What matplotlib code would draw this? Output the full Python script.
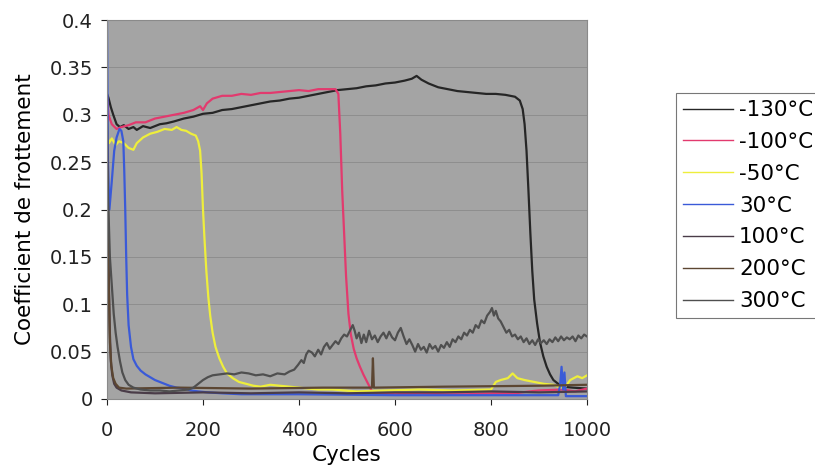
import numpy as np
import matplotlib
matplotlib.use("Agg")
import matplotlib.pyplot as plt

# (cycle, coefficient) pairs
m130 = np.array([
    [0, 0.322], [3, 0.318], [8, 0.308], [13, 0.300], [20, 0.290], [27, 0.287], [35, 0.289],
    [45, 0.285], [55, 0.287], [62, 0.284], [75, 0.288], [90, 0.286], [110, 0.290], [124, 0.291],
    [140, 0.293], [160, 0.296], [180, 0.298], [200, 0.301], [220, 0.302], [240, 0.305],
    [260, 0.306], [280, 0.308], [300, 0.310], [320, 0.312], [340, 0.314], [360, 0.315],
    [380, 0.317], [400, 0.318], [420, 0.320], [440, 0.322], [460, 0.324], [480, 0.326],
    [500, 0.327], [520, 0.328], [540, 0.330], [560, 0.331], [580, 0.333], [600, 0.334],
    [620, 0.336], [635, 0.338], [645, 0.341], [655, 0.337], [670, 0.333], [690, 0.329],
    [710, 0.327], [730, 0.325], [750, 0.324], [770, 0.323], [790, 0.322], [810, 0.322],
    [830, 0.321], [850, 0.319], [860, 0.315], [866, 0.306], [870, 0.290], [874, 0.262],
    [878, 0.220], [882, 0.175], [886, 0.135], [890, 0.105], [896, 0.080], [902, 0.060],
    [909, 0.045], [916, 0.034], [923, 0.026], [930, 0.020], [940, 0.016], [950, 0.013],
    [970, 0.012], [1000, 0.011]])

m100 = np.array([
    [0, 0.320], [3, 0.300], [10, 0.290], [20, 0.285], [30, 0.287], [45, 0.289], [60, 0.292],
    [80, 0.292], [100, 0.296], [120, 0.298], [140, 0.300], [160, 0.302], [180, 0.305],
    [194, 0.309], [200, 0.305], [208, 0.312], [220, 0.317], [240, 0.320], [260, 0.320],
    [280, 0.322], [300, 0.321], [320, 0.323], [340, 0.323], [360, 0.324], [380, 0.325],
    [400, 0.326], [420, 0.325], [440, 0.327], [460, 0.327], [476, 0.327], [482, 0.322],
    [486, 0.280], [490, 0.220], [494, 0.175], [498, 0.130], [503, 0.090], [508, 0.068],
    [514, 0.053], [520, 0.043], [527, 0.034], [534, 0.026], [541, 0.019], [548, 0.012],
    [553, 0.007], [570, 0.006], [600, 0.005], [650, 0.006], [700, 0.005], [750, 0.005],
    [800, 0.006], [850, 0.006], [880, 0.008], [900, 0.009], [950, 0.010], [975, 0.008],
    [1000, 0.011]])

m50 = np.array([
    [0, 0.280], [4, 0.270], [10, 0.275], [18, 0.268], [25, 0.272], [35, 0.270], [45, 0.265],
    [55, 0.263], [62, 0.270], [75, 0.276], [90, 0.280], [105, 0.282], [120, 0.285],
    [135, 0.284], [145, 0.287], [155, 0.284], [165, 0.283], [175, 0.280], [185, 0.278],
    [190, 0.272], [194, 0.262], [197, 0.238], [200, 0.200], [203, 0.170], [207, 0.135],
    [211, 0.108], [215, 0.088], [220, 0.070], [226, 0.055], [234, 0.043], [242, 0.034],
    [250, 0.027], [262, 0.022], [275, 0.018], [290, 0.016], [305, 0.014], [320, 0.013],
    [340, 0.015], [360, 0.014], [380, 0.013], [400, 0.012], [420, 0.011], [440, 0.010],
    [470, 0.010], [520, 0.008], [580, 0.009], [650, 0.010], [720, 0.009], [800, 0.010],
    [810, 0.018], [820, 0.020], [835, 0.022], [845, 0.027], [855, 0.022], [870, 0.020],
    [890, 0.018], [910, 0.016], [930, 0.015], [945, 0.012], [955, 0.013], [965, 0.020],
    [980, 0.024], [990, 0.022], [1000, 0.025]])

p30 = np.array([
    [0, 0.400], [2, 0.250], [5, 0.200], [10, 0.230], [15, 0.262], [20, 0.276], [26, 0.285],
    [30, 0.283], [34, 0.272], [36, 0.240], [38, 0.200], [40, 0.150], [42, 0.110],
    [45, 0.078], [50, 0.055], [55, 0.042], [62, 0.035], [70, 0.030], [80, 0.026],
    [90, 0.023], [100, 0.020], [115, 0.017], [130, 0.014], [145, 0.012], [160, 0.011],
    [175, 0.009], [190, 0.008], [210, 0.007], [240, 0.006], [280, 0.005], [400, 0.005],
    [600, 0.004], [800, 0.004], [940, 0.004], [944, 0.015], [947, 0.034], [950, 0.010],
    [953, 0.028], [956, 0.003], [1000, 0.003]])

p100 = np.array([
    [0, 0.300], [2, 0.200], [4, 0.120], [6, 0.070], [8, 0.040], [11, 0.025], [15, 0.016],
    [20, 0.012], [30, 0.009], [50, 0.007], [100, 0.006], [200, 0.007], [300, 0.006],
    [400, 0.007], [500, 0.006], [600, 0.007], [700, 0.007], [800, 0.008], [900, 0.007],
    [1000, 0.008]])

p200 = np.array([
    [0, 0.240], [2, 0.180], [4, 0.110], [6, 0.060], [9, 0.035], [13, 0.022], [18, 0.016],
    [25, 0.012], [40, 0.011], [150, 0.012], [300, 0.011], [450, 0.012], [552, 0.012],
    [554, 0.043], [556, 0.012], [700, 0.013], [900, 0.014], [1000, 0.015]])

p300 = np.array([
    [0, 0.250], [3, 0.200], [6, 0.150], [10, 0.120], [14, 0.090], [18, 0.070], [22, 0.055],
    [27, 0.040], [32, 0.028], [38, 0.020], [45, 0.015], [55, 0.012], [70, 0.010],
    [90, 0.009], [110, 0.009], [130, 0.008], [150, 0.009], [170, 0.010], [180, 0.012],
    [190, 0.016], [200, 0.020], [210, 0.023], [220, 0.025], [235, 0.026], [250, 0.027],
    [265, 0.026], [280, 0.028], [295, 0.027], [310, 0.025], [325, 0.026], [340, 0.024],
    [355, 0.027], [370, 0.026], [380, 0.029], [390, 0.031], [398, 0.036], [405, 0.041],
    [410, 0.038], [415, 0.047], [420, 0.051], [427, 0.049], [433, 0.045], [440, 0.052],
    [446, 0.047], [452, 0.055], [458, 0.059], [464, 0.053], [470, 0.057], [476, 0.061],
    [482, 0.058], [488, 0.064], [494, 0.068], [500, 0.066], [506, 0.072], [512, 0.078],
    [516, 0.072], [520, 0.064], [525, 0.070], [530, 0.059], [535, 0.068], [540, 0.060],
    [546, 0.072], [552, 0.063], [558, 0.067], [564, 0.060], [570, 0.066], [576, 0.070],
    [582, 0.064], [588, 0.071], [594, 0.065], [600, 0.062], [606, 0.070], [612, 0.075],
    [618, 0.066], [624, 0.058], [630, 0.063], [636, 0.057], [642, 0.050], [648, 0.058],
    [654, 0.052], [660, 0.055], [666, 0.049], [672, 0.058], [678, 0.053], [684, 0.056],
    [690, 0.050], [696, 0.057], [702, 0.054], [708, 0.060], [714, 0.055], [720, 0.063],
    [726, 0.060], [732, 0.066], [738, 0.063], [744, 0.070], [750, 0.067], [756, 0.073],
    [762, 0.070], [768, 0.078], [774, 0.075], [780, 0.083], [786, 0.080], [792, 0.088],
    [798, 0.092], [802, 0.096], [806, 0.088], [810, 0.093], [815, 0.085], [820, 0.082],
    [826, 0.076], [832, 0.070], [838, 0.073], [844, 0.066], [850, 0.068], [856, 0.063],
    [862, 0.066], [868, 0.060], [874, 0.064], [880, 0.058], [886, 0.062], [892, 0.057],
    [898, 0.063], [904, 0.059], [910, 0.062], [916, 0.058], [922, 0.063], [928, 0.060],
    [934, 0.065], [940, 0.061], [946, 0.066], [952, 0.062], [958, 0.065], [964, 0.063],
    [970, 0.066], [976, 0.061], [982, 0.067], [988, 0.064], [994, 0.068], [1000, 0.066]])

series = [m130, m100, m50, p30, p100, p200, p300]
labels = ["-130°C", "-100°C", "-50°C", "30°C", "100°C", "200°C", "300°C"]
colors = ["#262626", "#e23a6e", "#eeee3c", "#3a5ad8", "#4a3c48", "#5c4632", "#4f4f4f"]

plt.rcParams["font.family"] = "DejaVu Sans"
fig = plt.figure(figsize=(8.15, 4.67), dpi=100)
ax = fig.add_axes([107 / 815, 1 - 399 / 467, 480 / 815, 379 / 467])
ax.set_facecolor("#a4a4a4")

for d, lab, c in zip(series, labels, colors):
    ax.plot(d[:, 0], d[:, 1], color=c, lw=1.6, label=lab)

ax.set_xlim(0, 1000)
ax.set_ylim(0, 0.4)
ax.set_xticks(range(0, 1001, 200))
yt = np.arange(0, 0.401, 0.05)
ax.set_yticks(yt)
ax.set_yticklabels(["0", "0.05", "0.1", "0.15", "0.2", "0.25", "0.3", "0.35", "0.4"])
ax.yaxis.grid(True, color="#8a8a8a", lw=0.6)
ax.set_axisbelow(True)
ax.tick_params(labelsize=14, colors="#222222", length=4, width=0.8)
ax.tick_params(axis="y", pad=6)
ax.tick_params(axis="x", pad=12)
for s in ax.spines.values():
    s.set_color("#8a8a8a")
    s.set_linewidth(0.8)

ax.set_xlabel("Cycles", fontsize=15.5, va="center")
ax.xaxis.set_label_coords(0.5, (399 - 455) / 379)
ax.set_ylabel("Coefficient de frottement", fontsize=15.5, va="center")
ax.yaxis.set_label_coords((25 - 107) / 480, 0.5)

leg = fig.legend(loc="upper left", bbox_to_anchor=(676 / 815, 1 - 93 / 467),
                 fontsize=15.5, frameon=True, fancybox=False, handlelength=2.3,
                 handletextpad=0.3, labelspacing=0.55, borderpad=0.33, borderaxespad=0)
leg.get_frame().set_edgecolor("#555555")
leg.get_frame().set_linewidth(0.8)
for line in leg.get_lines():
    line.set_linewidth(1.0)

fig.savefig("out.png", dpi=100)
